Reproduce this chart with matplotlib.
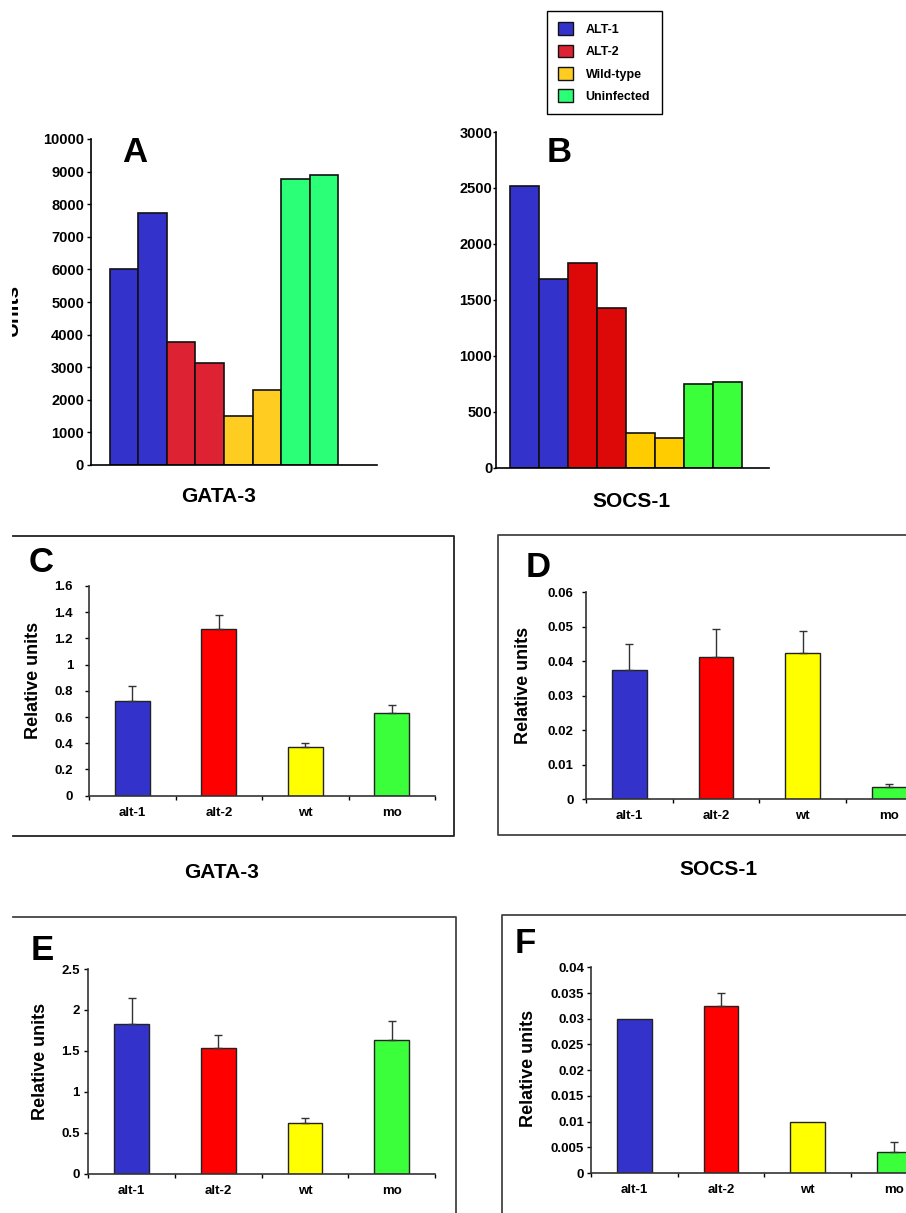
import matplotlib
matplotlib.use('Agg')
import matplotlib.pyplot as plt
from matplotlib.patches import Patch
from matplotlib.lines import Line2D
from matplotlib.transforms import Bbox
import numpy as np

# --- data ---
groups = ['ALT-1', 'ALT-2', 'Wild-type', 'Uninfected']
cats = ['alt-1', 'alt-2', 'wt', 'mo']

a_vals = [6000, 7740, 3780, 3140, 1510, 2310, 8760, 8900]   # GATA-3 (A)
b_vals = [2515, 1690, 1830, 1430, 313, 268, 748, 769]       # SOCS-1 (B)

c_vals = [0.72, 1.27, 0.37, 0.63]
c_err = [0.12, 0.11, 0.035, 0.065]
d_vals = [0.0375, 0.0411, 0.0425, 0.0034]
d_err = [0.0075, 0.0083, 0.0062, 0.0009]
e_vals = [1.83, 1.53, 0.615, 1.63]
e_err = [0.31, 0.16, 0.07, 0.23]
f_vals = [0.030, 0.0324, 0.010, 0.004]
f_err = [0, 0.0026, 0, 0.002]

colA = ['#3333cc', '#dd2233', '#ffcc22', '#2aff77']
colB = ['#3333cc', '#dd0808', '#ffcc00', '#3cff3c']
colR = ['#3333cc', '#ff0000', '#ffff00', '#3cff3c']

W, H = 906, 1213
plt.rcParams['font.family'] = ['Liberation Sans', 'DejaVu Sans']
plt.rcParams['font.weight'] = 'bold'


def box(l, t, r, b):
    return [l / W, 1 - b / H, (r - l) / W, (b - t) / H]


def fx(x):
    return x / W


def fy(y):
    return 1 - y / H


fig = plt.figure(figsize=(W / 100, H / 100), dpi=100)


def top_panel(rect, vals, cols, ymax, step, xlim, tlen, tpad, tsize):
    ax = fig.add_axes(rect)
    x = np.arange(len(vals))
    ax.bar(x, vals, width=1, color=np.repeat(cols, 2), edgecolor='#111111', linewidth=1.2)
    ax.set_xlim(*xlim)
    ax.set_ylim(0, ymax)
    ax.set_xticks([])
    ax.set_yticks(np.arange(0, ymax + 1, step))
    ax.tick_params(axis='y', length=tlen, width=1, pad=tpad, labelsize=tsize)
    for s in ['top', 'right']:
        ax.spines[s].set_visible(False)
    ax.spines['left'].set_linewidth(1.2)
    ax.spines['bottom'].set_linewidth(1.2)
    return ax


top_panel(box(91, 139, 377, 465), a_vals, colA, 10000, 1000, (-1.164, 8.864), 3, 2, 10.5)
top_panel(box(495.7, 132, 769, 467.7), b_vals, colB, 3000, 500, (-1.003, 8.42), 2, 0.5, 10.5)


def rel_panel(rect, vals, err, ymax, step, ypad):
    ax = fig.add_axes(rect)
    pos = np.arange(4) + 0.5
    ax.bar(pos, vals, width=0.4, color=colR, edgecolor='#222222', linewidth=1, zorder=2)
    err = np.array(err)
    m = err > 0
    ax.errorbar(pos[m], np.array(vals)[m], yerr=[np.zeros(m.sum()), err[m]], fmt='none',
                ecolor='#333333', elinewidth=1, capsize=3, capthick=1, zorder=3)
    ax.set_xlim(0, 4)
    ax.set_ylim(0, ymax)
    ax.set_xticks(np.arange(5))
    ax.set_xticklabels([])
    ax.set_xticks(pos, minor=True)
    ax.set_xticklabels(cats, minor=True)
    ax.tick_params(axis='x', which='minor', length=0, pad=8, labelsize=9.5)
    ax.tick_params(axis='x', which='major', length=3, width=1)
    yt = np.arange(0, ymax + step / 2, step)
    ax.set_yticks(yt)
    ax.set_yticklabels(['{:g}'.format(v) for v in yt])
    ax.tick_params(axis='y', length=3, width=1, pad=ypad, labelsize=9.5)
    for s in ['top', 'right']:
        ax.spines[s].set_visible(False)
    ax.spines['left'].set_color('#333333')
    ax.spines['bottom'].set_color('#333333')
    ax.spines['left'].set_linewidth(1.2)
    ax.spines['bottom'].set_linewidth(1.2)
    return ax


rel_panel(box(89, 586, 435, 795.7), c_vals, c_err, 1.6, 0.2, 8.5)
rel_panel(box(586, 592.3, 932.8, 799), d_vals, d_err, 0.06, 0.01, 6)
rel_panel(box(88.3, 969, 435, 1173.7), e_vals, e_err, 2.5, 0.5, 3)
rel_panel(box(591, 967.3, 937.8, 1173), f_vals, f_err, 0.04, 0.005, 2)


def frame(xs, ys, color='#444444'):
    fig.add_artist(Line2D([fx(v) for v in xs], [fy(v) for v in ys], color=color,
                          linewidth=1.3, transform=fig.transFigure))


frame([13, 454, 454, 13], [536, 536, 836, 836], '#222222')
frame([906, 498, 498, 906], [535, 535, 835, 835])
frame([13, 455.7, 455.7], [916.7, 916.7, 1213])
frame([906, 502, 502], [915, 915, 1213])

# panel letters
for letter, x, y in [('A', 134.5, 162), ('B', 559, 161.7), ('C', 41.5, 572),
                     ('D', 538, 576.7), ('E', 42, 960), ('F', 525, 953)]:
    fig.text(fx(x), fy(y), letter, fontsize=25, fontweight='bold', ha='center', va='baseline')

# gene labels
for name, x, y in [('GATA-3', 218.5, 501.7), ('SOCS-1', 631.5, 506.7),
                   ('GATA-3', 222, 878), ('SOCS-1', 718, 875)]:
    fig.text(fx(x), fy(y), name, fontsize=15, fontweight='bold', ha='center', va='baseline')

# y labels
for x, y in [(34, 680), (524, 685), (40.5, 1061.5), (528.7, 1068)]:
    fig.text(fx(x), fy(y), 'Relative units', fontsize=13, fontweight='bold',
             rotation=90, ha='center', va='center')

# cut-off "Units" label of panel A
t = fig.text(fx(22), fy(310), 'Units', fontsize=15, fontweight='bold', rotation=90,
             ha='right', va='center')
t.set_clip_box(Bbox([[12, 0], [W, H]]))

handles = [Patch(facecolor=c, edgecolor='#111111', linewidth=1) for c in colA]
leg = fig.legend(handles, groups, loc='upper left', bbox_to_anchor=(fx(547), fy(11)),
                 frameon=True, fancybox=False, edgecolor='black', framealpha=1,
                 prop={'weight': 'bold', 'size': 9}, handlelength=1.2, handleheight=1.2,
                 handletextpad=1.0, labelspacing=0.7, borderpad=0.9, borderaxespad=0)
leg.get_frame().set_linewidth(1)

fig.savefig('out.png', dpi=100)
